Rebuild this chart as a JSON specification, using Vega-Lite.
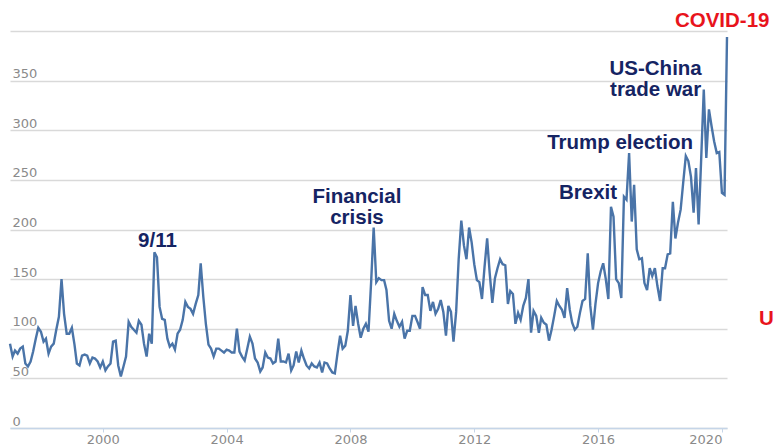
{
 "$schema": "https://vega.github.io/schema/vega-lite/v6.json",
 "width": 717,
 "height": 397,
 "autosize": {"type": "none"},
 "padding": {"left": 10, "top": 31, "right": 49, "bottom": 20},
 "background": "white",
 "config": {"view": {"stroke": null}},
 "layer": [
  {
   "data": {"values": [
{"d":"1997-01","v":85},{"d":"1997-02","v":72},{"d":"1997-03","v":78},{"d":"1997-04","v":75},{"d":"1997-05","v":80},{"d":"1997-06","v":82},{"d":"1997-07","v":65},{"d":"1997-08","v":62},{"d":"1997-09","v":67},{"d":"1997-10","v":77},{"d":"1997-11","v":90},{"d":"1997-12","v":101},
{"d":"1998-01","v":97},{"d":"1998-02","v":87},{"d":"1998-03","v":90},{"d":"1998-04","v":75},{"d":"1998-05","v":82},{"d":"1998-06","v":85},{"d":"1998-07","v":99},{"d":"1998-08","v":112},{"d":"1998-09","v":150},{"d":"1998-10","v":115},{"d":"1998-11","v":95},{"d":"1998-12","v":95},
{"d":"1999-01","v":101},{"d":"1999-02","v":84},{"d":"1999-03","v":65},{"d":"1999-04","v":63},{"d":"1999-05","v":73},{"d":"1999-06","v":74},{"d":"1999-07","v":73},{"d":"1999-08","v":65},{"d":"1999-09","v":71},{"d":"1999-10","v":70},{"d":"1999-11","v":67},{"d":"1999-12","v":61},
{"d":"2000-01","v":67},{"d":"2000-02","v":58},{"d":"2000-03","v":62},{"d":"2000-04","v":65},{"d":"2000-05","v":87},{"d":"2000-06","v":88},{"d":"2000-07","v":63},{"d":"2000-08","v":52},{"d":"2000-09","v":62},{"d":"2000-10","v":72},{"d":"2000-11","v":107},{"d":"2000-12","v":102},
{"d":"2001-01","v":99},{"d":"2001-02","v":96},{"d":"2001-03","v":108},{"d":"2001-04","v":104},{"d":"2001-05","v":85},{"d":"2001-06","v":72},{"d":"2001-07","v":95},{"d":"2001-08","v":85},{"d":"2001-09","v":177},{"d":"2001-10","v":172},{"d":"2001-11","v":122},{"d":"2001-12","v":110},
{"d":"2002-01","v":109},{"d":"2002-02","v":90},{"d":"2002-03","v":82},{"d":"2002-04","v":85},{"d":"2002-05","v":79},{"d":"2002-06","v":95},{"d":"2002-07","v":99},{"d":"2002-08","v":109},{"d":"2002-09","v":127},{"d":"2002-10","v":122},{"d":"2002-11","v":120},{"d":"2002-12","v":115},
{"d":"2003-01","v":125},{"d":"2003-02","v":134},{"d":"2003-03","v":166},{"d":"2003-04","v":132},{"d":"2003-05","v":105},{"d":"2003-06","v":84},{"d":"2003-07","v":80},{"d":"2003-08","v":72},{"d":"2003-09","v":80},{"d":"2003-10","v":80},{"d":"2003-11","v":78},{"d":"2003-12","v":76},
{"d":"2004-01","v":79},{"d":"2004-02","v":78},{"d":"2004-03","v":76},{"d":"2004-04","v":76},{"d":"2004-05","v":100},{"d":"2004-06","v":77},{"d":"2004-07","v":72},{"d":"2004-08","v":68},{"d":"2004-09","v":80},{"d":"2004-10","v":92},{"d":"2004-11","v":85},{"d":"2004-12","v":70},
{"d":"2005-01","v":66},{"d":"2005-02","v":57},{"d":"2005-03","v":61},{"d":"2005-04","v":76},{"d":"2005-05","v":71},{"d":"2005-06","v":70},{"d":"2005-07","v":65},{"d":"2005-08","v":67},{"d":"2005-09","v":90},{"d":"2005-10","v":67},{"d":"2005-11","v":67},{"d":"2005-12","v":66},
{"d":"2006-01","v":75},{"d":"2006-02","v":58},{"d":"2006-03","v":63},{"d":"2006-04","v":77},{"d":"2006-05","v":66},{"d":"2006-06","v":78},{"d":"2006-07","v":70},{"d":"2006-08","v":63},{"d":"2006-09","v":60},{"d":"2006-10","v":65},{"d":"2006-11","v":62},{"d":"2006-12","v":61},
{"d":"2007-01","v":66},{"d":"2007-02","v":56},{"d":"2007-03","v":66},{"d":"2007-04","v":65},{"d":"2007-05","v":60},{"d":"2007-06","v":56},{"d":"2007-07","v":55},{"d":"2007-08","v":75},{"d":"2007-09","v":93},{"d":"2007-10","v":80},{"d":"2007-11","v":83},{"d":"2007-12","v":98},
{"d":"2008-01","v":134},{"d":"2008-02","v":103},{"d":"2008-03","v":123},{"d":"2008-04","v":105},{"d":"2008-05","v":91},{"d":"2008-06","v":100},{"d":"2008-07","v":105},{"d":"2008-08","v":97},{"d":"2008-09","v":147},{"d":"2008-10","v":202},{"d":"2008-11","v":147},{"d":"2008-12","v":151},
{"d":"2009-01","v":149},{"d":"2009-02","v":149},{"d":"2009-03","v":139},{"d":"2009-04","v":108},{"d":"2009-05","v":100},{"d":"2009-06","v":115},{"d":"2009-07","v":108},{"d":"2009-08","v":102},{"d":"2009-09","v":107},{"d":"2009-10","v":90},{"d":"2009-11","v":98},{"d":"2009-12","v":98},
{"d":"2010-01","v":113},{"d":"2010-02","v":113},{"d":"2010-03","v":107},{"d":"2010-04","v":100},{"d":"2010-05","v":142},{"d":"2010-06","v":134},{"d":"2010-07","v":134},{"d":"2010-08","v":118},{"d":"2010-09","v":127},{"d":"2010-10","v":115},{"d":"2010-11","v":120},{"d":"2010-12","v":129},
{"d":"2011-01","v":117},{"d":"2011-02","v":93},{"d":"2011-03","v":123},{"d":"2011-04","v":117},{"d":"2011-05","v":87},{"d":"2011-06","v":117},{"d":"2011-07","v":170},{"d":"2011-08","v":209},{"d":"2011-09","v":184},{"d":"2011-10","v":170},{"d":"2011-11","v":202},{"d":"2011-12","v":187},
{"d":"2012-01","v":165},{"d":"2012-02","v":149},{"d":"2012-03","v":147},{"d":"2012-04","v":130},{"d":"2012-05","v":162},{"d":"2012-06","v":191},{"d":"2012-07","v":156},{"d":"2012-08","v":126},{"d":"2012-09","v":151},{"d":"2012-10","v":161},{"d":"2012-11","v":170},{"d":"2012-12","v":165},
{"d":"2013-01","v":164},{"d":"2013-02","v":125},{"d":"2013-03","v":138},{"d":"2013-04","v":135},{"d":"2013-05","v":105},{"d":"2013-06","v":116},{"d":"2013-07","v":109},{"d":"2013-08","v":123},{"d":"2013-09","v":131},{"d":"2013-10","v":150},{"d":"2013-11","v":96},{"d":"2013-12","v":118},
{"d":"2014-01","v":113},{"d":"2014-02","v":96},{"d":"2014-03","v":111},{"d":"2014-04","v":106},{"d":"2014-05","v":104},{"d":"2014-06","v":88},{"d":"2014-07","v":99},{"d":"2014-08","v":113},{"d":"2014-09","v":128},{"d":"2014-10","v":123},{"d":"2014-11","v":119},{"d":"2014-12","v":111},
{"d":"2015-01","v":141},{"d":"2015-02","v":119},{"d":"2015-03","v":106},{"d":"2015-04","v":99},{"d":"2015-05","v":102},{"d":"2015-06","v":116},{"d":"2015-07","v":128},{"d":"2015-08","v":130},{"d":"2015-09","v":176},{"d":"2015-10","v":123},{"d":"2015-11","v":99},{"d":"2015-12","v":125},
{"d":"2016-01","v":146},{"d":"2016-02","v":158},{"d":"2016-03","v":166},{"d":"2016-04","v":150},{"d":"2016-05","v":130},{"d":"2016-06","v":223},{"d":"2016-07","v":213},{"d":"2016-08","v":150},{"d":"2016-09","v":146},{"d":"2016-10","v":131},{"d":"2016-11","v":233},{"d":"2016-12","v":230},
{"d":"2017-01","v":277},{"d":"2017-02","v":208},{"d":"2017-03","v":245},{"d":"2017-04","v":180},{"d":"2017-05","v":170},{"d":"2017-06","v":171},{"d":"2017-07","v":146},{"d":"2017-08","v":139},{"d":"2017-09","v":161},{"d":"2017-10","v":153},{"d":"2017-11","v":161},{"d":"2017-12","v":143},
{"d":"2018-01","v":128},{"d":"2018-02","v":161},{"d":"2018-03","v":161},{"d":"2018-04","v":175},{"d":"2018-05","v":176},{"d":"2018-06","v":228},{"d":"2018-07","v":191},{"d":"2018-08","v":207},{"d":"2018-09","v":220},{"d":"2018-10","v":247},{"d":"2018-11","v":274},{"d":"2018-12","v":269},
{"d":"2019-01","v":253},{"d":"2019-02","v":217},{"d":"2019-03","v":262},{"d":"2019-04","v":205},{"d":"2019-05","v":270},{"d":"2019-06","v":341},{"d":"2019-07","v":272},{"d":"2019-08","v":321},{"d":"2019-09","v":304},{"d":"2019-10","v":289},{"d":"2019-11","v":277},{"d":"2019-12","v":278},
{"d":"2020-01","v":237},{"d":"2020-02","v":235},{"d":"2020-03","v":394}
   ]},
   "mark": {"type": "line", "color": "#4a74a8", "strokeWidth": 2.4},
   "encoding": {
    "x": {
     "field": "d", "type": "temporal",
     "scale": {"type": "utc", "domain": [{"year": 1997, "month": 1, "utc": true}, {"year": 2020, "month": 3, "utc": true}]},
     "axis": {
      "title": null,
      "values": [{"year": 2000, "utc": true}, {"year": 2004, "utc": true}, {"year": 2008, "utc": true}, {"year": 2012, "utc": true}, {"year": 2016, "utc": true}, {"year": 2020, "utc": true}],
      "format": "%Y",
      "grid": false,
      "domainColor": "#c5d5e8",
      "domainWidth": 1.5,
      "tickColor": "#c5d5e8",
      "tickSize": 4,
      "labelPadding": 1,
      "labelFlush": 6,
      "labelFont": "DejaVu Sans",
      "labelFontSize": 13,
      "labelColor": "#8a8a8a"
     }
    },
    "y": {
     "field": "v", "type": "quantitative",
     "scale": {"domain": [0, 400], "nice": false},
     "axis": {
      "title": null,
      "values": [0, 50, 100, 150, 200, 250, 300, 350, 400],
      "grid": true,
      "gridColor": "#d9d9d9",
      "gridWidth": 1.5,
      "domain": false,
      "ticks": false,
      "tickSize": 0,
      "labelAlign": "left",
      "labelBaseline": "alphabetic",
      "labelPadding": -2,
      "labelOffset": -3,
      "labelFont": "DejaVu Sans",
      "labelFontSize": 13,
      "labelColor": "#8a8a8a",
      "labelExpr": "datum.value == 400 ? '' : datum.label"
     }
    }
   }
  },
  {
   "data": {"values": [
    {"t": "9/11", "d": "2001-10-07", "v": 182.4, "k": "event"},
    {"t": "Financial|crisis", "d": "2008-03-18", "v": 226.5, "k": "event"},
    {"t": "Brexit", "d": "2015-09-04", "v": 230.7, "k": "event"},
    {"t": "Trump election", "d": "2016-09-16", "v": 281, "k": "event"},
    {"t": "US-China|trade war", "d": "2017-11-10", "v": 355.5, "k": "event"},
    {"t": "COVID-19", "d": "2020-01-04", "v": 404, "k": "covid"},
    {"t": "U", "d": "2021-06-10", "v": 103.8, "k": "covid"}
   ]},
   "mark": {"type": "text", "font": "Liberation Sans", "fontWeight": "bold", "fontSize": 20.5, "baseline": "alphabetic", "align": "center", "lineBreak": "|", "lineHeight": 21},
   "encoding": {
    "x": {"field": "d", "type": "temporal"},
    "y": {"field": "v", "type": "quantitative"},
    "text": {"field": "t"},
    "color": {"field": "k", "type": "nominal", "scale": {"domain": ["event", "covid"], "range": ["#152463", "#e8141c"]}, "legend": null}
   }
  }
 ]
}
